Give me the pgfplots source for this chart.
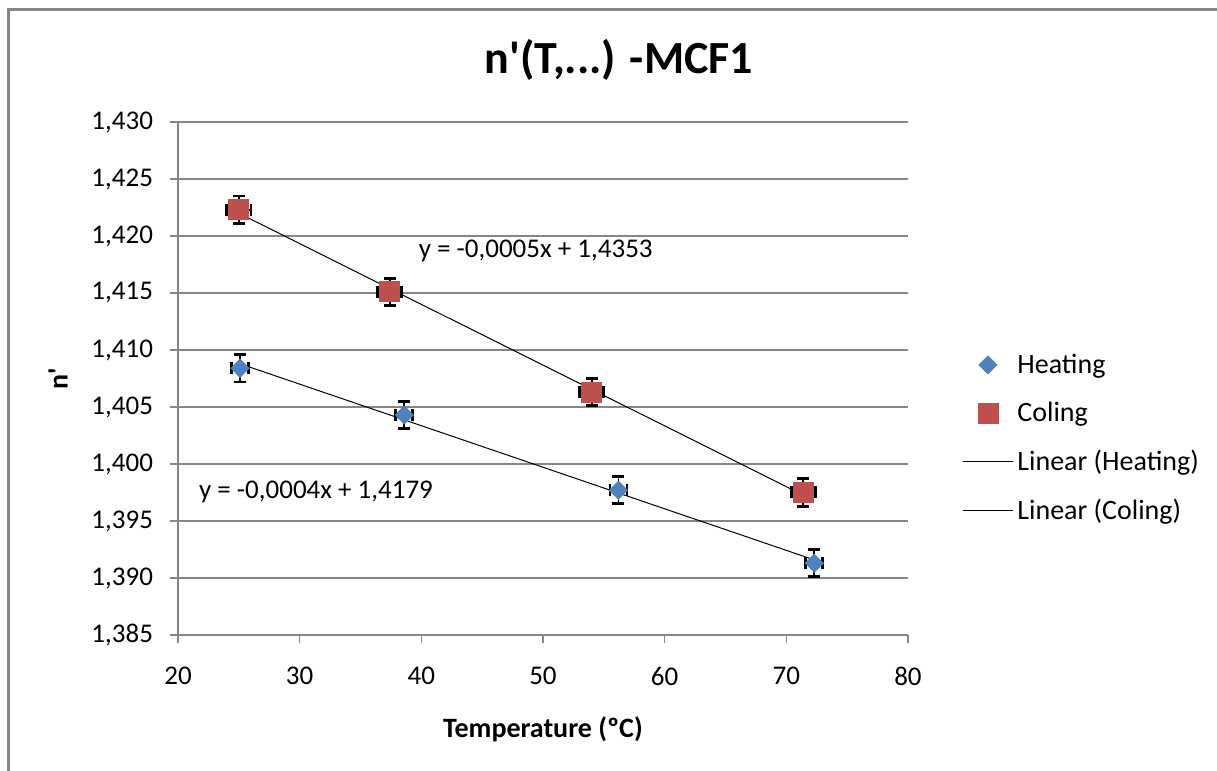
\documentclass[border=0pt]{standalone}
\usepackage{pgfplots}
\pgfplotsset{compat=1.18}
\usepackage{pgfplotstable}
\usepackage{fontspec}
\setmainfont{Carlito}
\newfontfamily\xlplain{Carlito}
\definecolor{xlblue}{HTML}{4F81BD}
\definecolor{xlred}{HTML}{C0504D}
\definecolor{xlgray}{HTML}{868686}

\pgfplotstableread{
x y xe ye
25.1 1.4084 0.7 0.0012
38.6 1.4043 0.7 0.0012
56.2 1.3977 0.7 0.0012
72.3 1.3913 0.7 0.0012
}\heating

\pgfplotstableread{
x y xe ye
25.0 1.4223 1.0 0.0012
37.4 1.4151 1.0 0.0012
54.0 1.4063 1.0 0.0012
71.4 1.3975 1.0 0.0012
}\coling

\pgfplotsset{
  xlerr/.style={forget plot, only marks, mark=none,
    error bars/.cd, x dir=both, x explicit, y dir=both, y explicit,
    error bar style={draw=black, line width=0.9pt},
    error mark options={rotate=90, draw=black, line width=1.4pt, mark size=3pt}},
}

\begin{document}
\begin{tikzpicture}
\path[use as bounding box] (-89pt,-68pt) rectangle (519.5pt,317.5pt);
\draw[xlgray, line width=1.5pt] (-84.75pt,-68pt) -- (-84.75pt,312.5pt) -- (519.5pt,312.5pt);
\begin{axis}[
  at={(0pt,0pt)}, anchor=south west,
  width=365pt, height=256.5pt, scale only axis,
  xmin=20, xmax=80, ymin=1.385, ymax=1.430,
  axis x line*=bottom, axis y line*=left,
  axis line style={xlgray, line width=0.6pt},
  tick style={xlgray, line width=0.6pt},
  tick align=outside, major tick length=4pt,
  ymajorgrids, grid style={xlgray, line width=0.6pt},
  xtick={20,30,40,50,60,70,80},
  ytick={1.385,1.390,1.395,1.400,1.405,1.410,1.415,1.420,1.425,1.430},
  scaled y ticks=false,
  /pgf/number format/assume math mode=true,
  yticklabel style={/pgf/number format/.cd, fixed, fixed zerofill, precision=3, use comma, /tikz/.cd, xshift=-5pt},
  xticklabel style={yshift=-8.5pt},
  ticklabel style={font=\fontsize{13.5}{16}\selectfont},
  title={n{\xlplain'}(T,...) -MCF1},
  title style={at={(axis description cs:0.604,1.0975)}, anchor=center, font=\bfseries\fontsize{23}{27}\selectfont},
  xlabel={Temperature (ºC)},
  xlabel style={at={(axis description cs:0.5,-0.1832)}, anchor=center, font=\bfseries\fontsize{14}{17}\selectfont},
  ylabel={n{\xlplain'}},
  ylabel style={at={(axis description cs:-0.1644,0.5)}, anchor=center, rotate=0, font=\bfseries\fontsize{14}{17}\selectfont},
  legend image code/.code={\draw[mark repeat=2,mark phase=2,#1] plot coordinates {(0pt,0pt)(12.5pt,0pt)(25pt,0pt)};},
  legend style={at={(1.074,0.384)}, anchor=west, draw=none, fill=none, inner sep=0pt, row sep=8.8pt,
    font=\fontsize{14}{17}\selectfont},
  legend cell align=left,
  clip=false,
]
\addplot[xlerr] table[x=x, y=y, x error=xe, y error=ye] {\heating};
\addplot[xlerr] table[x=x, y=y, x error=xe, y error=ye] {\coling};
\addplot[only marks, mark=square*, mark size=3.18pt, mark options={rotate=45, fill=xlblue, draw=xlblue}]
  table[x=x, y=y] {\heating};
\addlegendentry{Heating}
\addplot[only marks, mark=square*, mark size=5pt, mark options={fill=xlred, draw=xlred}]
  table[x=x, y=y] {\coling};
\addlegendentry{Coling}
\addplot[black, line width=0.5pt, no marks] table[x=x, y={create col/linear regression={y=y}}] {\heating};
\addlegendentry{Linear (Heating)}
\addplot[black, line width=0.5pt, no marks] table[x=x, y={create col/linear regression={y=y}}] {\coling};
\addlegendentry{Linear (Coling)}
\node[font=\fontsize{13.5}{16}\selectfont] at (axis cs:49.4,1.41868) {y = -0,0005x + 1,4353};
\node[font=\fontsize{13.5}{16}\selectfont] at (axis cs:31.34,1.39754) {y = -0,0004x + 1,4179};
\end{axis}
\end{tikzpicture}
\end{document}
